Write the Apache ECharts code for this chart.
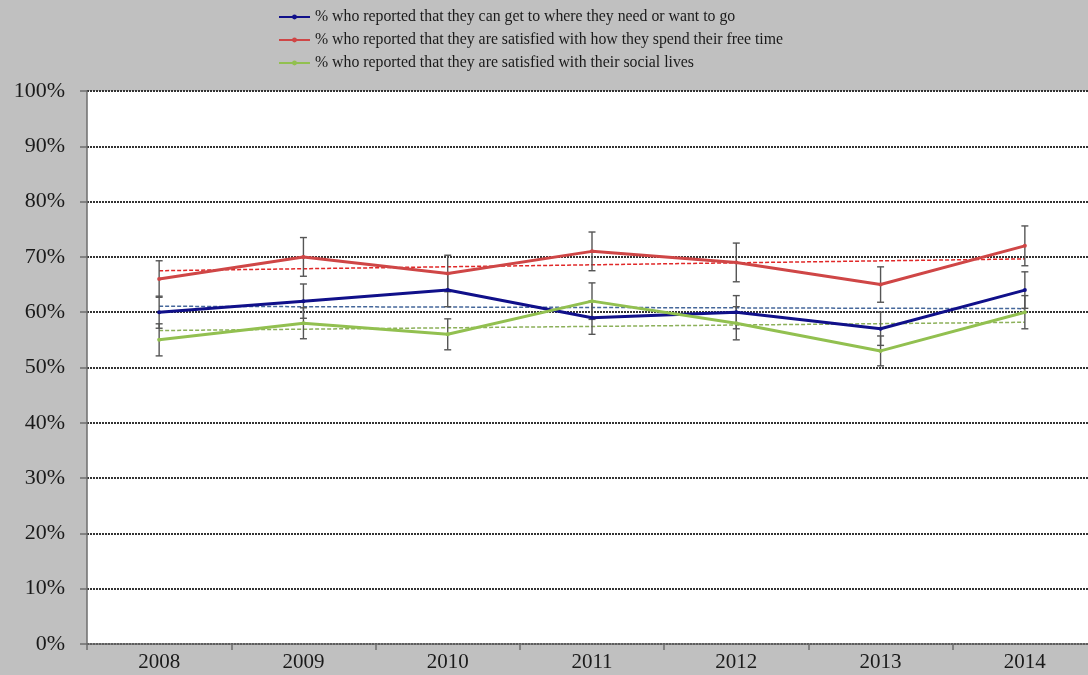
<!DOCTYPE html>
<html>
<head>
<meta charset="utf-8">
<script src="https://cdn.jsdelivr.net/npm/echarts@6/dist/echarts.min.js"></script>
<style>
html,body{margin:0;padding:0;background:#c0c0c0;overflow:hidden;width:1088px;height:675px;}
#chart{width:1110px;height:675px;}
</style>
</head>
<body>
<div id="chart"></div>
<script>
var years = ['2008','2009','2010','2011','2012','2013','2014'];
var seriesNames = [
  '% who reported that they can get to where they need or want to go',
  '% who reported that they are satisfied with how they spend their free time',
  '% who reported that they are satisfied with their social lives'
];
var getAround = [60, 62, 64, 59, 60, 57, 64];
var freeTime  = [66, 70, 67, 71, 69, 65, 72];
var social    = [55, 58, 56, 62, 58, 53, 60];
var errGetAround = [2.9, 3.1, 3.0, 3.0, 3.0, 3.0, 3.3];
var errFreeTime  = [3.3, 3.5, 3.3, 3.5, 3.5, 3.2, 3.6];
var errSocial    = [2.9, 2.8, 2.8, 3.3, 3.0, 2.7, 3.0];
var yTicks = [0,10,20,30,40,50,60,70,80,90,100];

var colors = ['#10108a', '#cf4646', '#92c050'];
var trendColors = ['#45679a', '#e02828', '#8cb05a'];

function trend(vals){
  var n = vals.length, mx = (n-1)/2, my = 0;
  vals.forEach(function(v){ my += v; }); my /= n;
  var sxy = 0, sxx = 0;
  vals.forEach(function(v,i){ sxy += (i-mx)*(v-my); sxx += (i-mx)*(i-mx); });
  var b = sxy/sxx;
  return vals.map(function(v,i){ return +(my + b*(i-mx)).toFixed(3); });
}
function errData(vals, errs){
  return vals.map(function(v,i){ return [i, v-errs[i], v+errs[i]]; });
}
function errRender(params, api){
  var x = api.value(0);
  var lo = api.coord([x, api.value(1)]);
  var hi = api.coord([x, api.value(2)]);
  var w = 3.5;
  var st = {stroke:'#555', lineWidth:1.4, fill:null};
  return {type:'group', children:[
    {type:'line', shape:{x1:lo[0],y1:lo[1],x2:hi[0],y2:hi[1]}, style:st},
    {type:'line', shape:{x1:lo[0]-w,y1:lo[1],x2:lo[0]+w,y2:lo[1]}, style:st},
    {type:'line', shape:{x1:hi[0]-w,y1:hi[1],x2:hi[0]+w,y2:hi[1]}, style:st}
  ]};
}

var mains = [getAround, freeTime, social];
var errs = [errGetAround, errFreeTime, errSocial];
var series = [];
mains.forEach(function(vals, k){
  series.push({type:'line', name:'trend'+k, data:trend(vals), symbol:'none', silent:true,
    lineStyle:{color:trendColors[k], width:1.5, type:[4,2]}, z:2});
});
mains.forEach(function(vals, k){
  series.push({type:'custom', name:'err'+k, data:errData(vals, errs[k]), renderItem:errRender,
    encode:{x:0, y:[1,2]}, z:3, silent:true});
});
mains.forEach(function(vals, k){
  series.push({type:'line', name:seriesNames[k], data:vals, symbol:'circle', symbolSize:4,
    itemStyle:{color:colors[k]}, lineStyle:{color:colors[k], width:3}, z:4});
});

var chart = echarts.init(document.getElementById('chart'));
chart.setOption({
  backgroundColor:'#c0c0c0',
  animation:false,
  legend:{
    data:seriesNames, orient:'vertical', left:273, top:4, itemGap:7,
    itemWidth:31, itemHeight:6,
    textStyle:{fontFamily:'Liberation Serif', fontSize:15.8, color:'#1a1a1a', lineHeight:16}
  },
  grid:{left:87, top:91, width:1010, height:553, show:true, backgroundColor:'#ffffff', borderWidth:0},
  xAxis:{
    type:'category', data:years, boundaryGap:true,
    axisLine:{lineStyle:{color:'#6e6e6e', width:1.5}},
    axisTick:{show:true, length:6, lineStyle:{color:'#6e6e6e', width:1.5}},
    axisLabel:{fontFamily:'Liberation Serif', fontSize:21, color:'#1a1a1a', margin:8},
    splitLine:{show:false}
  },
  yAxis:{
    type:'value', min:0, max:100, interval:10,
    axisLine:{show:true, lineStyle:{color:'#6e6e6e', width:1.5}},
    axisTick:{show:true, length:7, lineStyle:{color:'#6e6e6e', width:1.5}},
    axisLabel:{fontFamily:'Liberation Serif', fontSize:22, color:'#1a1a1a', margin:22,
      formatter:function(v){ return yTicks.indexOf(v) >= 0 ? v + '%' : ''; }},
    splitLine:{show:true, lineStyle:{color:'#333333', width:2, type:[2,1]}}
  },
  series:series
});
</script>
</body>
</html>
